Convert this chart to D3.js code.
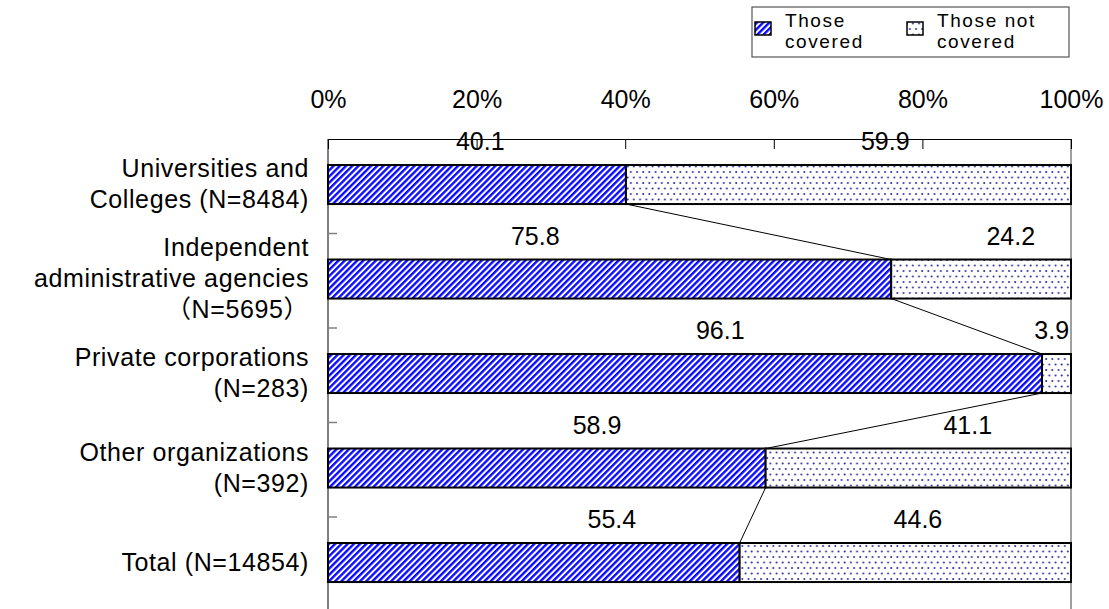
<!DOCTYPE html>
<html>
<head>
<meta charset="utf-8">
<script src="https://cdn.jsdelivr.net/npm/d3@7"></script>
<style>
  html, body { margin: 0; padding: 0; background: #fff; }
  svg { display: block; font-family: "Liberation Sans", Arial, "Noto Sans CJK JP", sans-serif; }
</style>
</head>
<body>
<svg id="chart" width="1109" height="609"></svg>
<script>
// Coverage shares by type of organization (percent)
const categories = [
  ["Universities and", "Colleges (N=8484)"],
  ["Independent", "administrative agencies", "（N=5695）"],
  ["Private corporations", "(N=283)"],
  ["Other organizations", "(N=392)"],
  ["Total (N=14854)"]
];
const covered    = [40.1, 75.8, 96.1, 58.9, 55.4];
const notCovered = [59.9, 24.2, 3.9, 41.1, 44.6];
const seriesNames = [["Those", "covered"], ["Those not", "covered"]];
const tickValues = [0, 20, 40, 60, 80, 100];

// Where the value labels sit along the axis (percent units)
const coveredLabelAt    = [20.5, 27.9, 52.8, 36.2, 38.2];
const notCoveredLabelAt = [75.0, 91.9, 97.4, 86.1, 79.4];

const W = 1109, H = 609;
const plot = { left: 328, right: 1071, top: 139, bottom: 611.5 };

const svg = d3.select("#chart");
const defs = svg.append("defs");

// Blue diagonal hatch for "covered"
const hatch = defs.append("pattern")
  .attr("id", "hatch").attr("patternUnits", "userSpaceOnUse")
  .attr("width", 4.4).attr("height", 4.4)
  .attr("patternTransform", "rotate(45)");
hatch.append("rect").attr("width", 4.4).attr("height", 4.4).attr("fill", "#ffffff");
hatch.append("rect").attr("width", 2.4).attr("height", 4.4).attr("fill", "#0a0aff");

// Staggered dot fill for "not covered"
const dots = defs.append("pattern")
  .attr("id", "dots").attr("patternUnits", "userSpaceOnUse")
  .attr("width", 6.2).attr("height", 11);
dots.append("rect").attr("width", 6.2).attr("height", 11).attr("fill", "#ffffff");
dots.append("circle").attr("cx", 1.5).attr("cy", 1.5).attr("r", 1).attr("fill", "#2c2ca0");
dots.append("circle").attr("cx", 4.6).attr("cy", 7).attr("r", 1).attr("fill", "#2c2ca0");

const x = d3.scaleLinear().domain([0, 100]).range([plot.left, plot.right]);
const idx = d3.range(categories.length);
const y = d3.scaleBand().domain(idx)
  .range([plot.top, plot.bottom])
  .paddingInner(0.587).paddingOuter(0.2935).align(0.469);
const step = y.step();

// Left and right frame lines
svg.append("line")
  .attr("x1", plot.left).attr("x2", plot.left)
  .attr("y1", plot.top).attr("y2", H)
  .attr("stroke", "#808080").attr("stroke-width", 2);
svg.append("line")
  .attr("x1", plot.right).attr("x2", plot.right)
  .attr("y1", plot.top).attr("y2", H)
  .attr("stroke", "#a0a0a0").attr("stroke-width", 2);

// Category boundary ticks on the left axis
svg.append("g").selectAll("line")
  .data(idx.slice(1))
  .join("line")
  .attr("x1", plot.left).attr("x2", plot.left + 9)
  .attr("y1", i => plot.top + step * i)
  .attr("y2", i => plot.top + step * i)
  .attr("stroke", "#808080").attr("stroke-width", 1.5);

// Top percent axis
const axis = d3.axisTop(x)
  .tickValues(tickValues)
  .tickSize(-10).tickSizeOuter(0).tickPadding(31)
  .tickFormat(d => d + "%");
const gAxis = svg.append("g")
  .attr("transform", `translate(0,${plot.top})`)
  .call(axis);
gAxis.select(".domain").attr("stroke", "#000").attr("stroke-width", 1.2);
gAxis.selectAll(".tick line").attr("stroke", "#000");
gAxis.selectAll(".tick text")
  .attr("font-size", 25).attr("fill", "#000")
  .attr("font-family", "'Liberation Sans', Arial, sans-serif");
// keep the last label inside the page
gAxis.selectAll(".tick text").each(function () {
  const bb = this.getBBox();
  const tr = d3.select(this.parentNode).attr("transform");
  const tx = +tr.match(/translate\(([-\d.]+)/)[1];
  const overflow = tx + bb.x + bb.width - (W - 3);
  if (overflow > 0) d3.select(this).attr("x", -overflow);
});

// Bars
const bars = svg.append("g");
bars.selectAll("rect.cov")
  .data(idx).join("rect").attr("class", "cov")
  .attr("x", x(0))
  .attr("y", i => y(i))
  .attr("width", i => x(covered[i]) - x(0))
  .attr("height", y.bandwidth())
  .attr("fill", "url(#hatch)")
  .attr("stroke", "#000").attr("stroke-width", 2);
bars.selectAll("rect.unc")
  .data(idx).join("rect").attr("class", "unc")
  .attr("x", i => x(covered[i]))
  .attr("y", i => y(i))
  .attr("width", i => x(covered[i] + notCovered[i]) - x(covered[i]))
  .attr("height", y.bandwidth())
  .attr("fill", "url(#dots)")
  .attr("stroke", "#000").attr("stroke-width", 2);

// Series lines joining the covered segment ends
svg.append("g").selectAll("line")
  .data(idx.slice(0, -1))
  .join("line")
  .attr("x1", i => x(covered[i])).attr("y1", i => y(i) + y.bandwidth())
  .attr("x2", i => x(covered[i + 1])).attr("y2", i => y(i + 1))
  .attr("stroke", "#000").attr("stroke-width", 1);

// Value labels
const labels = svg.append("g")
  .attr("font-size", 25).attr("fill", "#000").attr("text-anchor", "middle");
labels.selectAll("text.cov")
  .data(idx).join("text").attr("class", "cov")
  .attr("x", i => x(coveredLabelAt[i]))
  .attr("y", i => y(i) - 15)
  .text(i => covered[i].toFixed(1));
labels.selectAll("text.unc")
  .data(idx).join("text").attr("class", "unc")
  .attr("x", i => x(notCoveredLabelAt[i]))
  .attr("y", i => y(i) - 15)
  .text(i => notCovered[i].toFixed(1));

// Category labels, centred on each bar
const lineH = 31;
const catRight = 309;
const cat = svg.append("g")
  .attr("font-size", 25).attr("fill", "#000").attr("text-anchor", "end")
  .attr("letter-spacing", 0.6);
cat.selectAll("text")
  .data(idx).join("text")
  .attr("x", catRight)
  .attr("y", i => y(i) + y.bandwidth() / 2 - (categories[i].length - 1) * lineH / 2 + 8)
  .selectAll("tspan")
  .data(i => categories[i])
  .join("tspan")
  .attr("x", catRight)
  .attr("dy", (d, j) => j === 0 ? 0 : lineH)
  .text(d => d);

// Legend
const legend = svg.append("g");
legend.append("rect")
  .attr("x", 752).attr("y", 7).attr("width", 317).attr("height", 50)
  .attr("fill", "#fff").attr("stroke", "#555").attr("stroke-width", 1.2);
const legendItems = [
  { fill: "url(#hatch)", x: 755, name: seriesNames[0] },
  { fill: "url(#dots)", x: 907, name: seriesNames[1] }
];
const li = legend.selectAll("g.item").data(legendItems).join("g").attr("class", "item");
li.append("rect")
  .attr("x", d => d.x).attr("y", 22).attr("width", 16).attr("height", 13)
  .attr("fill", d => d.fill).attr("stroke", "#000").attr("stroke-width", 1.5);
li.append("text")
  .attr("font-size", 19).attr("fill", "#000").attr("letter-spacing", 1.6)
  .selectAll("tspan").data(d => d.name.map(t => ({ t, x: d.x + 30 })))
  .join("tspan")
  .attr("x", d => d.x)
  .attr("y", (d, j) => j === 0 ? 27 : 48)
  .text(d => d.t);
</script>
</body>
</html>
